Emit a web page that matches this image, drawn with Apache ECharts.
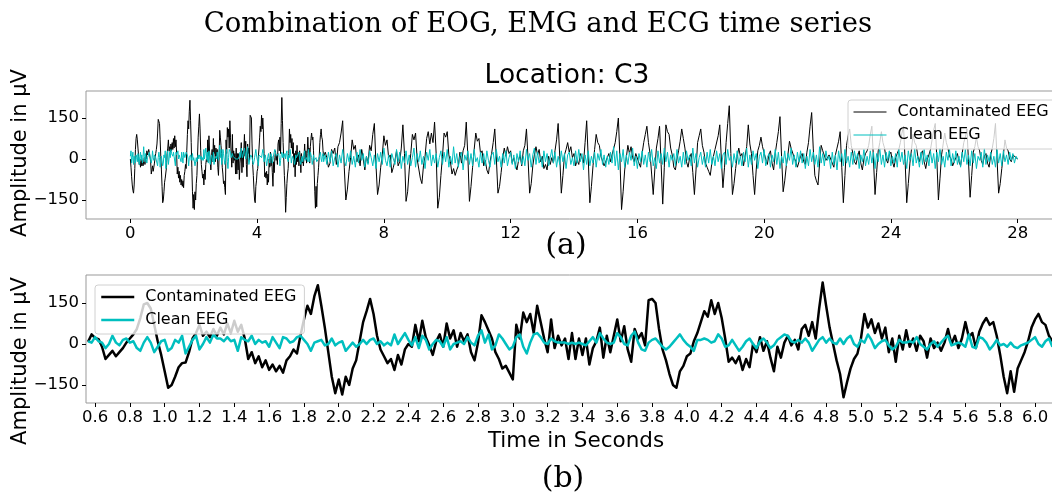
<!DOCTYPE html>
<html>
<head>
<meta charset="utf-8">
<script src="https://cdn.jsdelivr.net/npm/echarts@6/dist/echarts.min.js"></script>
<style>
html, body { margin: 0; padding: 0; background: #fff; }
#main { width: 1052px; height: 498px; }
</style>
</head>
<body>
<div id="main"></div>
<script>
// ---- data (µV) ----
// 0.00 - 0.54 s, every 0.02 s (top panel only)
var earlyStart = 0, earlyStep = 0.02;
var contamEarly = [0, -30, -65, -95, -115, -125, -95, -35, 35, 75,
  90, 70, 40, 10, -20, -10, -30, 0, -25, -5,
  -25, -10, 5, -20, 10, 0, 30, 15];
var cleanEarly = [10, 30, -15, 5, 25, -20, 10, 0, -15, 15,
  5, -10, 20, 0, -20, 10, 25, -5, 15, -15,
  5, 45, 10, -10, 20, 0, -15, 5];

// 0.56 - 6.10 s, every 0.02 s (both panels)
var detailStart = 0.56, detailStep = 0.02;
var contamDetail = [
  8, 35, 22, 18, -10, -55, -40, -25, -45, -30,
  -15, 5, 20, 35, 55, 95, 145, 150, 130, 70,
  10, -40, -100, -160, -150, -120, -85, -70, -68, -30,
  20, 40, 70, 30, 45, 25, 55, 30, 60, 35,
  75, 40, 85, 45, 70, 20, -55, -30, -70, -45,
  -85, -60, -95,
  -75, -100, -80, -105, -60, -45, -20, -35, 30, 90,
  140, 110, 175, 215, 140, 60, -30, -120, -180, -130,
  -185, -120, -150, -90, -60, 10, 80, 120, 165, 110,
  30, -20, -45, -70, -55, -95, -40, -75, -20, 0,
  -10, 70, 10, 85, 25, -5, -40, 10, 35, -10,
  75, 20, 50, -10, 40, 10, 35, -30,
  -60, 5, 105, 80, 50, 20, -30, -55, -90, -80,
  -105, -130, 70, 20, 115, 80, 110, 40, 140, 80,
  20, -30, 90, -15, 30, -5, 20, -55, 40, -55,
  20, -40, 20, -75, -15, 10, 60, -50, 30, -30,
  30, 90, 10, 65, -20, -65, 55, 20, 40, -5,
  160, 165, 150, 55, -20, -60,
  -110, -150, -160, -100, -80, -45, -35, 10, 40, 80,
  120, 100, 160, 110, 150, 95, 20, -65, -50, -70,
  -45, -95, -55, -85, 0, -30, 25, -25, 10, -50,
  -100, -10, -50, 5, 30, -5, 15, -20, 55, 70,
  30, 80, 20, 130, 225, 140, 60, 0, -60, -110,
  -195, -140, -90, -55, -35, 20,
  110, 60, 90, 40, 75, 20, 60, -30, 20, -65,
  30, -20, 50, -10, 20, -25, 30, 10, -50, 20,
  -15, 5, -25, 5, 55, 0, 30, -15, 20, 80,
  25, 40, -15, 45, 75, 95, 70, 80, 30, -40,
  -120, -180, -100, -175, -90, -60, -30, 10, 60, 90,
  110, 80, 70, 30, 10
];
var cleanDetail = [
  10, 5, 25, 10, 5, -15, 0, 30, 5, -5,
  15, 20, 5, 10, -15, -25, 5, 25, 5, -30,
  -10, 10, 15, -25, -15, 15, 5, 30, -35, -10,
  15, 30, -20, 0, 25, 5, 35, 20, 20, 10,
  25, 10, 15, -25, 25, 15, 10, 30, 0, 15,
  5, 10, -10, 25, 5, -15,
  25, 20, 5, 10, 25, 30, 15, 0, -25, 5,
  10, 15, -5, 0, 20, -5, 5, 10, -25, -10,
  5, -10, 0, 15, 0, 15, 20, 0, 10, -5,
  5, -5, 35, 0, 20, 40, 15, -5, 25, -15,
  30, 15, -20, 0, 15, 10, -10, 25, -20, 0,
  5, 10, 0, 25, 5, -5, 30, 50, 5, 35,
  -20, -5, 35, 20, 0, -20, -10, 25, 35, -10,
  -35, 5, 35, 40, 25, 5, 0, 20, 10, 5,
  5, 5, 0, 5, 0, 5, 0, -5, 10, 25,
  5, 40, 20, 5, 0, 5, 40, 25, 0, -5,
  30, 45, 5, -20, -25, 5, 15, 20, 5, -10,
  -20, -10, 5, 20, 35, 15, 0, -10, -25, 15,
  15, 20, 15, 5, 10, 35, 20, -10, -5, 15,
  -5, -25, -10, 10, 20, 0, -15, 10, 20, 5,
  -15, -5, 15, 25, 35, 30, 10, 5, 15, 5,
  20, 5, -25, -5, 15, 25, 5, 20, 5, 0,
  20, 0, 20, 30, 0, -10, 15, 5, 35, 15,
  -15, 0, 10, 15, -5, -20, -10, 15, 5, 5,
  10, 5, 25, 0, -10, -20, 0, 10, -10, 5,
  20, 30, -5, 0, 5, 0, -10, 35, -10, -15,
  25, 20, 5, -20, -5, 15, -5, 0, -10, 5,
  -10, -15, -5, 0, 5, 15, 25, 0, -10, 10,
  20, -10
];

// 6.15 - 28.00 s, every 0.05 s (top panel only), one row per second
var lateStart = 6.15, lateStep = 0.05;
var contamLate = [
  25, 5, -30, -15, 35, 20, 40, -20, 45, 60, 95, 140, -30, -150, -110, -45, 5, 70, 35, 50,
  -10, 15, -25, 35, 0, -40, 10, -15, 50, 30, 90, 130, -20, -130, -95, -30, 15, 85, 50, 70,
  5, 15, -50, -30, -5, 30, -25, -10, 40, 125, 20, -155, -120, -40, 20, 90, 70, 95, 0, -5,
  -70, -90, -25, 10, 75, 100, 55, 95, 60, 135, 20, -180, -140, -60, 10, 95, 80, 100, 15, -10,
  -55, -35, -60, -40, -25, 25, -15, 30, 50, 135, 10, -155, -100, -30, 35, 95, 65, 75, 20, 30,
  -25, -5, -40, -55, -10, 20, 60, 110, 0, -125, -100, -50, 5, 40, 10, 45, 20, 30, -15, 5,
  -20, -40, -5, 15, -25, 30, 50, 110, 0, -125, -90, -25, 15, 45, 15, 35, -10, 10, -35, -20,
  -40, 10, -20, 5, -15, 30, 70, 130, 10, -125, -60, 15, 35, 60, 25, 45, 5, 20, -25, -5,
  -20, 20, 5, -15, 60, 140, 0, -160, -100, -25, 35, 90, 60, 50, 10, 15, -25, -30, 5, 20,
  -10, 15, 20, 60, 100, 150, 0, -185, -120, -40, 5, 50, 20, 45, 5, -10, 20, 25, -15, -30,
  20, 60, 90, 120, 60, 20, -55, -130, -40, 40, 75, 120, -20, -165, -30, 125, 100, 90, 40, 15,
  -30, -40, 0, 30, 65, 110, 75, 40, -10, -30, 5, 20, -50, -130, -40, 60, 85, 110, 50, 25,
  -15, -30, -45, -60, -15, 10, 35, 40, 85, 125, 0, -105, -30, 60, 130, 195, 20, -130, -90, -35,
  10, 40, 10, 20, -25, -30, 45, 125, 55, 20, -60, -130, -40, 30, 50, 80, 45, 40, 0, -20,
  15, 30, -15, -40, 20, 60, 100, 155, 10, -120, -80, -25, 15, 65, 40, 45, 5, -10, -30, -35,
  10, 20, -10, -20, 25, 60, 120, 170, 40, -60, -80, -95, -15, 50, 30, 35, -5, -10, 15, 20,
  -15, -30, 15, 40, 65, 100, -30, -160, -60, 50, 85, 110, 50, 20, -10, -20, 10, 30, -15, -40,
  0, 20, 30, 50, 90, 120, 0, -130, -50, 30, 60, 100, 60, 40, 0, -15, 15, 25, -10, -30,
  5, 20, 35, 60, 95, 120, -10, -160, -90, -15, 35, 90, 60, 50, 10, -10, 20, 30, -10, -35,
  0, 15, 35, 70, 105, 130, 0, -150, -70, 15, 55, 95, 60, 40, 10, 0, -25, -30, 5, 20,
  -10, -25, 20, 60, 80, 110, -10, -140, -60, 25, 45, 80, 45, 30, -5, -20, 10, 20, -15, -30,
  15, 40, 75, 130, 0, -125, -90, -35, 15, 70, 40, 30, 0, -10, 15, 20, 5, 0
];
var cleanLate = [
  15, -20, 25, -10, 30, -25, 5, 20, -30, 15, -15, 35, -5, -25, 20, -10, 30, -20, 10, -30,
  25, -15, 35, -5, 20, -30, 10, -20, 30, 5, -25, 15, -35, 20, -10, 25, -20, 40, -5, -25,
  15, -30, 20, 0, -20, 35, -10, 25, -35, 10, -15, 30, -20, 15, -25, 5, 40, -30, 20, -10,
  30, -20, 10, -35, 25, -5, 35, -25, 15, -15, 20, -30, 5, 30, -20, 25, -10, 35, -30, 10,
  -20, 45, -15, 20, -30, 10, 25, -40, 15, -5, 30, -20, 20, -25, 35, -10, 5, -30, 25, -15,
  20, -25, 30, -5, -30, 15, 25, -20, 35, -10, 10, -30, 20, -15, 30, -25, 5, 25, -20, 15,
  -35, 20, -10, 30, -20, 10, -25, 35, -5, 20, -30, 15, 40, -20, 25, -15, 10, -30, 30, -10,
  20, -25, 5, 35, -15, 25, -30, 10, -20, 30, -10, 20, -35, 15, 25, -20, 5, -25, 30, -15,
  35, -10, 20, -40, 15, -20, 30, -25, 10, -15, 25, -30, 20, -5, 35, -20, 15, -30, 10, -20,
  25, -15, 45, -25, 30, -40, 20, -10, 35, -30, 15, -20, 25, -5, 40, -25, 10, -35, 20, -10,
  30, -20, 15, -30, 25, -10, 35, -25, 5, -35, 30, -15, 20, -20, 40, -10, 25, -30, 15, -5,
  20, -25, 35, -15, 10, -30, 25, -20, 30, -5, 15, -25, 40, -15, 20, -30, 5, 25, -20, 10,
  -30, 25, -15, 35, -20, 10, -25, 30, -10, 20, -35, 15, 25, -20, 35, -5, 10, -30, 20, -15,
  30, -20, 10, -25, 25, -10, 40, -30, 15, -20, 30, -5, 20, -35, 10, 25, -15, 35, -25, 5,
  20, -30, 15, -10, 35, -20, 25, -35, 10, -15, 30, -25, 20, -5, 40, -20, 15, -30, 25, -10,
  30, -15, 20, -35, 10, -25, 35, -10, 25, -20, 15, -30, 45, -15, 20, -25, 30, -5, 10, -35,
  25, -20, 15, -40, 30, -10, 20, -25, 35, -15, 10, -30, 25, -20, 30, -5, 20, -35, 15, -10,
  35, -25, 10, -20, 30, -15, 25, -35, 20, -10, 40, -20, 15, -30, 25, -5, 30, -25, 10, -15,
  20, -30, 35, -10, 25, -20, 15, -35, 30, -5, 20, -25, 40, -15, 10, -30, 25, -20, 35, -10,
  15, -25, 30, -15, 20, -35, 25, -10, 40, -20, 10, -30, 25, -5, 35, -25, 20, -15, 30, -20,
  10, -30, 25, -10, 35, -20, 15, -25, 30, -15, 20, -35, 10, -5, 25, -30, 40, -20, 15, -10,
  25, -20, 10, -30, 35, -15, 20, -25, 30, -10, 15, -20, 25, -5, 20, -15, 10, 0
];

var topTicks = [0, 4, 8, 12, 16, 20, 24, 28];
var bottomTicks = [0.6, 0.8, 1.0, 1.2, 1.4, 1.6, 1.8, 2.0, 2.2, 2.4, 2.6, 2.8, 3.0,
  3.2, 3.4, 3.6, 3.8, 4.0, 4.2, 4.4, 4.6, 4.8, 5.0, 5.2, 5.4, 5.6, 5.8, 6.0];
var ampTicks = [-150, 0, 150];

function pairs(start, step, vals) {
  return vals.map(function (v, i) {
    return [+(start + i * step).toFixed(3), v];
  });
}

var contamTop = pairs(earlyStart, earlyStep, contamEarly)
  .concat(pairs(detailStart, detailStep, contamDetail))
  .concat(pairs(lateStart, lateStep, contamLate));
var cleanTop = pairs(earlyStart, earlyStep, cleanEarly)
  .concat(pairs(detailStart, detailStep, cleanDetail))
  .concat(pairs(lateStart, lateStep, cleanLate));
var contamBottom = pairs(detailStart, detailStep, contamDetail);
var cleanBottom = pairs(detailStart, detailStep, cleanDetail);

var BLACK = '#000000', CYAN = '#00bfbf';
var tickFont = { color: '#000', fontSize: 16.5, fontFamily: 'DejaVu Sans' };
var minus = function (v) { return String(v).replace('-', '\u2212'); };

function xAxisFor(gi, min, max, ticks, fmt) {
  return {
    type: 'value', gridIndex: gi, min: min, max: max,
    splitLine: { show: false },
    axisLine: { show: false, onZero: false },
    axisTick: { show: true, customValues: ticks, length: 4, lineStyle: { color: '#000' } },
    axisLabel: Object.assign({ customValues: ticks, margin: 6, formatter: fmt }, tickFont)
  };
}
function yAxisFor(gi, min, max) {
  return {
    type: 'value', gridIndex: gi, min: min, max: max,
    splitLine: { show: false },
    axisLine: { show: false, onZero: false },
    axisTick: { show: true, customValues: ampTicks, length: 4, lineStyle: { color: '#000' } },
    axisLabel: Object.assign({ customValues: ampTicks, margin: 7, formatter: minus }, tickFont)
  };
}
function legendFor(left, top, width) {
  return {
    data: ['Contaminated EEG', 'Clean EEG'],
    orient: 'vertical', left: left, top: top,
    selectedMode: false,
    itemWidth: 33, itemHeight: 16, itemGap: 7,
    padding: [4, 8, 6, 5],
    backgroundColor: 'rgba(255,255,255,0.8)',
    borderColor: '#d0d0d0', borderWidth: 1, borderRadius: 3,
    itemStyle: { color: 'rgba(0,0,0,0)', borderColor: 'rgba(0,0,0,0)', borderWidth: 0 },
    lineStyle: { width: width },
    textStyle: { color: '#000', fontSize: 16, fontFamily: 'DejaVu Sans', lineHeight: 16, padding: [0, 0, 0, 6] }
  };
}
function line(name, gi, color, width, data) {
  return {
    name: name, type: 'line', xAxisIndex: gi, yAxisIndex: gi,
    data: data, symbol: 'none', showSymbol: false,
    lineStyle: { color: color, width: width, join: 'round' },
    itemStyle: { color: color },
    silent: true
  };
}

var chart = echarts.init(document.getElementById('main'));
chart.setOption({
  animation: false,
  // the plot boxes run past the right edge of the picture, as in the original crop
  grid: [
    { left: 86, top: 91, width: 976, height: 128, outerBoundsMode: 'none', containLabel: false,
      show: true, borderColor: '#999', borderWidth: 1 },
    { left: 86, top: 275, width: 976, height: 128, outerBoundsMode: 'none', containLabel: false,
      show: true, borderColor: '#999', borderWidth: 1 }
  ],
  xAxis: [
    xAxisFor(0, -1.4, 29.4, topTicks, function (v) { return String(v); }),
    xAxisFor(1, 0.548, 6.155, bottomTicks, function (v) { return v.toFixed(1); })
  ],
  yAxis: [yAxisFor(0, -219.5, 248.8), yAxisFor(1, -216, 252.5)],
  legend: [legendFor(848, 100, 1), legendFor(95, 285, 2.5)],
  series: [
    line('Contaminated EEG', 0, BLACK, 1, contamTop),
    line('Clean EEG', 0, CYAN, 1, cleanTop),
    line('Contaminated EEG', 1, BLACK, 2.5, contamBottom),
    line('Clean EEG', 1, CYAN, 2.5, cleanBottom)
  ],
  graphic: [
    { type: 'text', x: 538, y: 25, style: { text: 'Combination of EOG, EMG and ECG time series', font: '27.5px "DejaVu Serif"', fill: '#000', align: 'center', verticalAlign: 'middle' } },
    { type: 'text', x: 567, y: 76, style: { text: 'Location: C3', font: '26.5px "DejaVu Sans"', fill: '#000', align: 'center', verticalAlign: 'middle' } },
    { type: 'text', x: 566, y: 246, style: { text: '(a)', font: '30px "DejaVu Serif"', fill: '#000', align: 'center', verticalAlign: 'middle' } },
    { type: 'text', x: 563, y: 479, style: { text: '(b)', font: '30px "DejaVu Serif"', fill: '#000', align: 'center', verticalAlign: 'middle' } },
    { type: 'text', x: 576, y: 441, style: { text: 'Time in Seconds', font: '21.5px "DejaVu Sans"', fill: '#000', align: 'center', verticalAlign: 'middle' } },
    { type: 'text', x: 21, y: 153, rotation: Math.PI / 2, style: { text: 'Amplitude in \u00b5V', font: '21px "DejaVu Sans"', fill: '#000', align: 'center', verticalAlign: 'middle' } },
    { type: 'text', x: 21, y: 361, rotation: Math.PI / 2, style: { text: 'Amplitude in \u00b5V', font: '21px "DejaVu Sans"', fill: '#000', align: 'center', verticalAlign: 'middle' } }
  ]
});
</script>
</body>
</html>
